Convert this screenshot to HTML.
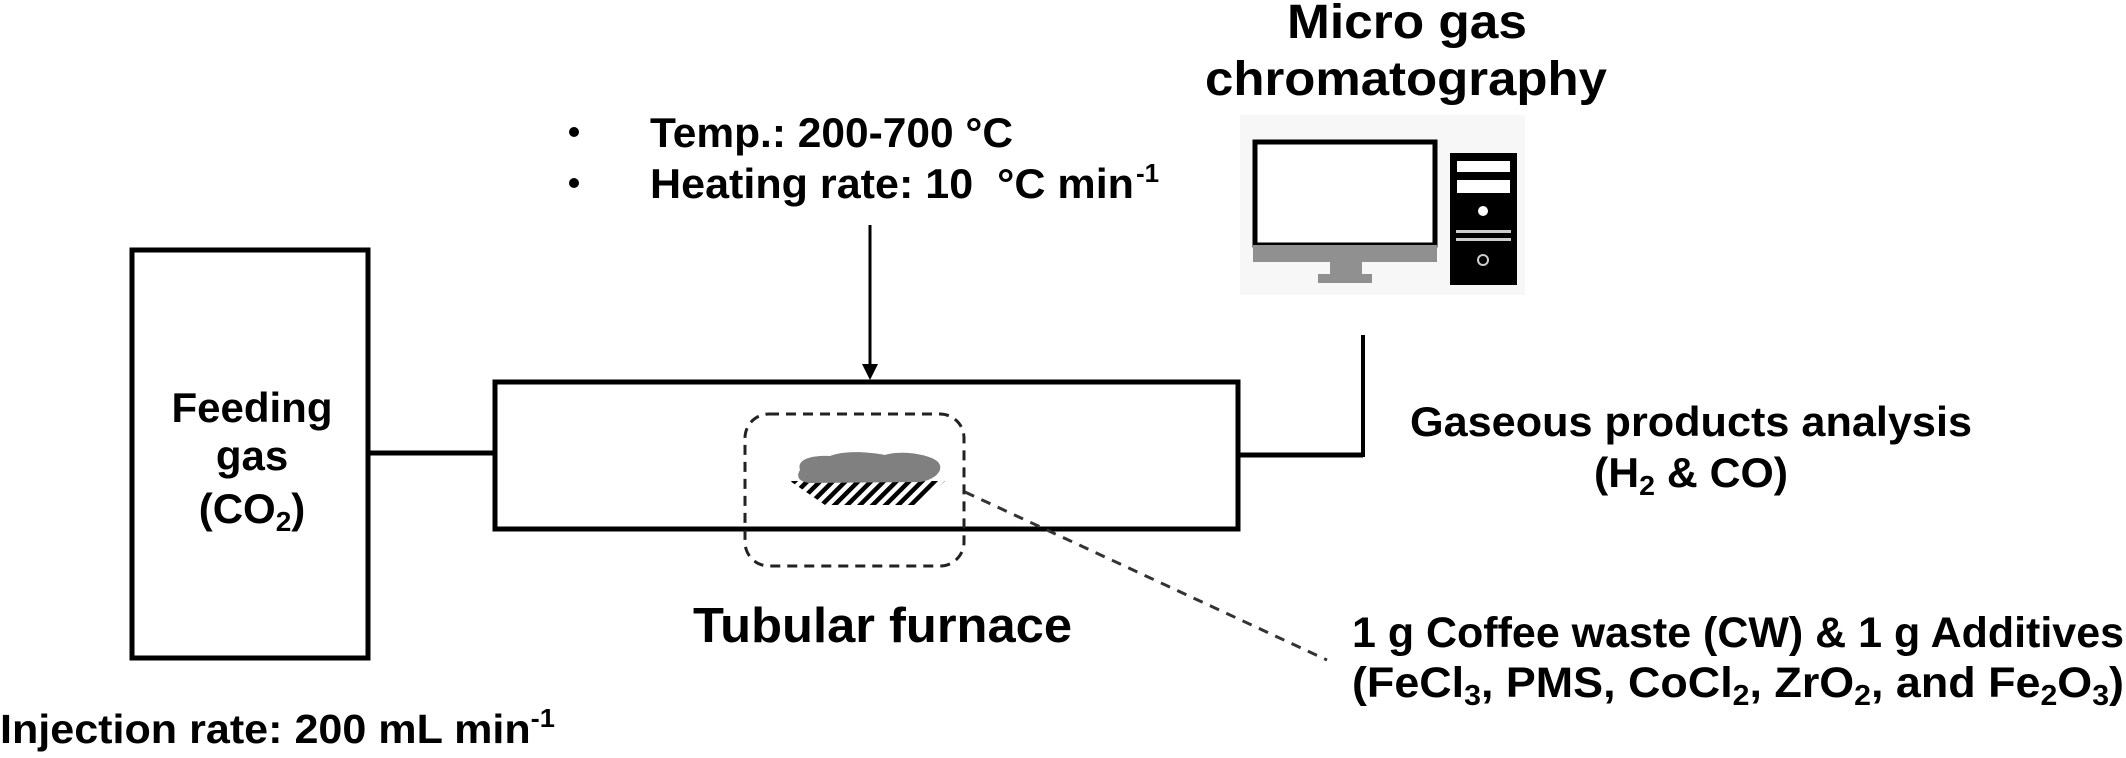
<!DOCTYPE html>
<html><head><meta charset="utf-8"><style>
html,body{margin:0;padding:0;background:#fff}
svg{display:block}
text{font-family:"Liberation Sans",Arial,sans-serif;font-weight:bold;fill:#000}
</style></head><body>
<svg width="2126" height="758" viewBox="0 0 2126 758" xmlns="http://www.w3.org/2000/svg">
<defs>
<pattern id="hatch" width="9" height="9" patternUnits="userSpaceOnUse" patternTransform="rotate(45)">
<rect width="4.5" height="9" fill="#000"/>
</pattern>
</defs>
<!-- Feeding box -->
<rect x="132" y="250" width="236" height="408" fill="none" stroke="#000" stroke-width="5"/>
<text x="252" y="422" font-size="42" text-anchor="middle">Feeding</text>
<text x="252" y="470" font-size="42" text-anchor="middle">gas</text>
<text x="252" y="523" font-size="42" text-anchor="middle">(CO<tspan font-size="28" dy="8">2</tspan><tspan dy="-8">)</tspan></text>
<line x1="368" y1="453" x2="495" y2="453" stroke="#000" stroke-width="5"/>
<text x="0" y="743" font-size="41" textLength="555" lengthAdjust="spacingAndGlyphs">Injection rate: 200 mL min<tspan font-size="26" dy="-16">-1</tspan></text>
<!-- Furnace -->
<rect x="495" y="382" width="743" height="147" fill="none" stroke="#000" stroke-width="5"/>
<line x1="1238" y1="455" x2="1363" y2="455" stroke="#000" stroke-width="5"/>
<line x1="1363" y1="457" x2="1363" y2="335" stroke="#000" stroke-width="4"/>
<!-- arrow -->
<line x1="870" y1="225" x2="870" y2="368" stroke="#000" stroke-width="3"/>
<polygon points="862,364 878,364 870,380" fill="#000"/>
<!-- bullets -->
<circle cx="574" cy="132" r="5" fill="#000"/>
<circle cx="574" cy="183" r="5" fill="#000"/>
<text x="650" y="147" font-size="42" textLength="363" lengthAdjust="spacingAndGlyphs">Temp.: 200-700 °C</text>
<text x="650" y="198" font-size="42" textLength="484" lengthAdjust="spacingAndGlyphs" xml:space="preserve">Heating rate: 10  °C min</text>
<text x="1136" y="182" font-size="26">-1</text>
<!-- dashed box -->
<rect x="745" y="414" width="219" height="152" rx="24" fill="none" stroke="#222" stroke-width="3" stroke-dasharray="10,7"/>
<!-- sample -->
<polygon points="790,481 945,481 918,505 825,505" fill="url(#hatch)"/>
<path d="M800,470 C796,458 815,455 830,456 C845,450 870,452 885,455 C900,450 930,454 938,462 C945,470 935,480 920,482 L810,483 C798,482 796,476 800,470 Z" fill="#808080"/>
<line x1="965" y1="492" x2="1327" y2="660" stroke="#333" stroke-width="3" stroke-dasharray="10,8"/>
<text x="693" y="642" font-size="49" textLength="379" lengthAdjust="spacingAndGlyphs">Tubular furnace</text>
<!-- computer -->
<rect x="1240" y="115" width="285" height="180" fill="#f7f7f7"/>
<rect x="1255" y="142" width="180" height="103" fill="#fff" stroke="#000" stroke-width="5"/>
<rect x="1253" y="245" width="184" height="17" fill="#909090"/>
<rect x="1330" y="262" width="32" height="13" fill="#909090"/>
<rect x="1318" y="274" width="54" height="9" fill="#909090"/>
<rect x="1450" y="153" width="67" height="132" fill="#000"/>
<rect x="1457" y="161" width="53" height="11" fill="#fff"/>
<rect x="1457" y="180" width="53" height="13" fill="#fff"/>
<circle cx="1483" cy="211" r="5" fill="#fff"/>
<rect x="1456" y="230" width="55" height="3" fill="#ccc"/>
<rect x="1456" y="238" width="55" height="3" fill="#ccc"/>
<circle cx="1483" cy="260" r="5" fill="none" stroke="#ccc" stroke-width="2"/>
<text x="1287" y="38" font-size="48" textLength="240" lengthAdjust="spacingAndGlyphs">Micro gas</text>
<text x="1205" y="95" font-size="48" textLength="402" lengthAdjust="spacingAndGlyphs">chromatography</text>
<!-- gaseous -->
<text x="1410" y="436" font-size="42" textLength="562" lengthAdjust="spacingAndGlyphs">Gaseous products analysis</text>
<text x="1594" y="487" font-size="42" textLength="194" lengthAdjust="spacingAndGlyphs">(H<tspan font-size="28" dy="8">2</tspan><tspan dy="-8"> &amp; CO)</tspan></text>
<!-- sample text -->
<text x="1352" y="647" font-size="43" textLength="772" lengthAdjust="spacingAndGlyphs">1 g Coffee waste (CW) &amp; 1 g Additives</text>
<text x="1352" y="697" font-size="43" textLength="772" lengthAdjust="spacingAndGlyphs">(FeCl<tspan font-size="29" dy="8">3</tspan><tspan dy="-8">, PMS, CoCl</tspan><tspan font-size="29" dy="8">2</tspan><tspan dy="-8">, ZrO</tspan><tspan font-size="29" dy="8">2</tspan><tspan dy="-8">, and Fe</tspan><tspan font-size="29" dy="8">2</tspan><tspan dy="-8">O</tspan><tspan font-size="29" dy="8">3</tspan><tspan dy="-8">)</tspan></text>
</svg>
</body></html>
